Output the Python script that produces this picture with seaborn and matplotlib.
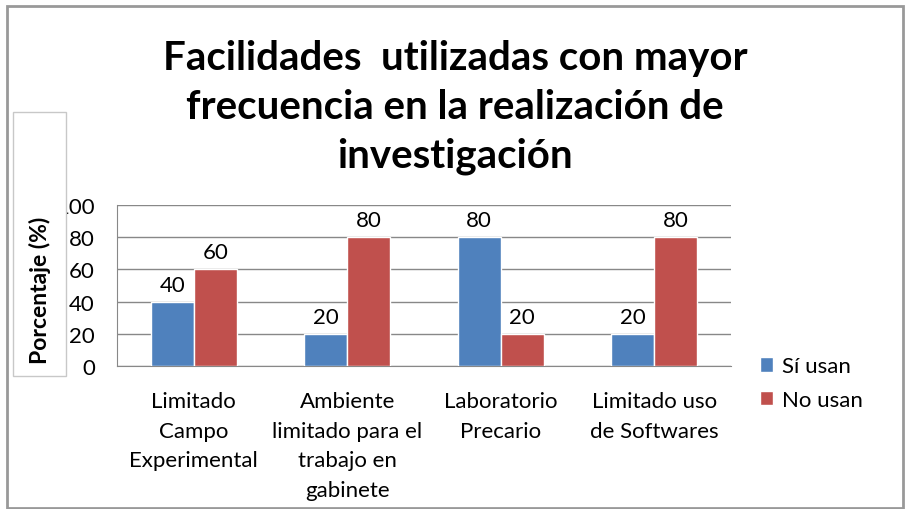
import matplotlib
matplotlib.use("Agg")
import matplotlib.pyplot as plt
import seaborn as sns
import pandas as pd
from matplotlib.patches import Rectangle

# data
categories = ["Limitado\nCampo\nExperimental",
              "Ambiente\nlimitado para el\ntrabajo en\ngabinete",
              "Laboratorio\nPrecario",
              "Limitado uso\nde Softwares"]
si_usan = [40, 20, 80, 20]
no_usan = [60, 80, 20, 80]
series_names = ["Sí usan", "No usan"]
colors = ["#4F81BD", "#C0504D"]

df = pd.DataFrame({
    "categoria": categories * 2,
    "valor": si_usan + no_usan,
    "serie": [series_names[0]] * 4 + [series_names[1]] * 4,
})

sns.set_style("white")
plt.rcParams["font.family"] = ["Lato", "DejaVu Sans"]
plt.rcParams["text.color"] = "black"

fig = plt.figure(figsize=(9.05, 5.1), dpi=100)
ax = fig.add_axes([117 / 905, 1 - 367 / 510, (731 - 117) / 905, (367 - 206) / 510])

sns.barplot(data=df, x="categoria", y="valor", hue="serie", palette=colors,
            width=0.56, saturation=1, ax=ax, legend=False, zorder=3)

for cont in ax.containers:
    ax.bar_label(cont, fontsize=16, padding=5, color="black")

ax.set_ylim(0, 100)
ax.set_yticks(range(0, 101, 20))
ax.yaxis.grid(True, color="#888888", linewidth=1, zorder=0)
ax.set_axisbelow(True)
for s in ["top", "right"]:
    ax.spines[s].set_visible(False)
for s in ["left", "bottom"]:
    ax.spines[s].set_color("#888888")
ax.tick_params(axis="y", labelsize=16, length=0, pad=16, labelcolor="black")
ax.tick_params(axis="x", length=0, pad=18)
ax.set_xticks(range(len(categories)))
ax.set_xticklabels(categories, fontsize=16, linespacing=1.6, color="black")
ax.set_xlabel("")
ax.set_ylabel("")

# title
fig.text(455 / 905, 1 - 40 / 510, "Facilidades  utilizadas con mayor\nfrecuencia en la realización de\ninvestigación",
         ha="center", va="top", fontsize=29, fontweight="bold", linespacing=1.4,
         color="black")

# y label box covering part of the tick labels
fig.patches.append(Rectangle((13 / 905, 1 - 377 / 510), 53 / 905, 264 / 510,
                             transform=fig.transFigure, facecolor="white",
                             edgecolor="#C8C8C8", linewidth=1, zorder=5))
fig.text(40 / 905, 1 - 290 / 510, "Porcentaje (%)", rotation=90, ha="center",
         va="center", fontsize=16.5, fontweight="bold", zorder=6, color="black")

# legend
handles = [Rectangle((0, 0), 1, 1, facecolor=c) for c in colors]
fig.legend(handles, series_names, loc="center left",
           bbox_to_anchor=(760 / 905, 1 - 384 / 510), frameon=False,
           fontsize=16, handlelength=0.6, handleheight=0.6, handletextpad=0.4,
           labelspacing=0.6, borderpad=0, borderaxespad=0)

# outer border
fig.patches.append(Rectangle((7 / 905, 1 / 510), 896 / 905, 502 / 510,
                             transform=fig.transFigure, facecolor="none",
                             edgecolor="#999999", linewidth=2, zorder=1))

fig.savefig("out.png", dpi=100)
